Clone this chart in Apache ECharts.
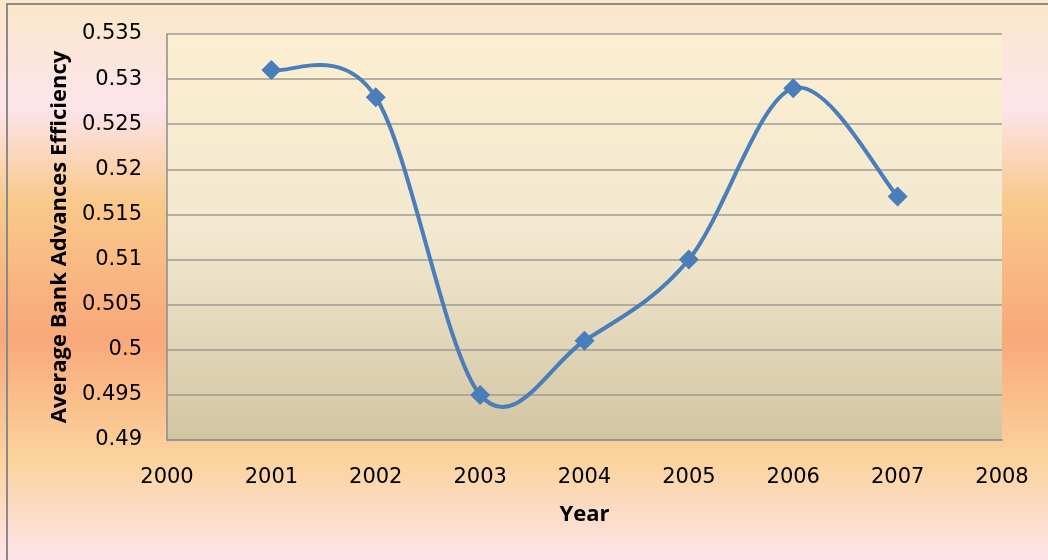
<!DOCTYPE html>
<html>
<head>
<meta charset="utf-8">
<script src="https://cdn.jsdelivr.net/npm/echarts@6/dist/echarts.min.js"></script>
<style>
  html, body { margin: 0; padding: 0; background: #ffffff; }
  #chart { width: 1048px; height: 560px; }
</style>
</head>
<body>
<div id="chart"></div>
<script>
// Average bank advances efficiency by year
const years = [2001, 2002, 2003, 2004, 2005, 2006, 2007];
const efficiency = [0.531, 0.528, 0.495, 0.501, 0.510, 0.529, 0.517];

// Axis ranges
const xRange = [2000, 2008];
const yRange = [0.49, 0.535];
const yStep = 0.005;

const tickFont = '"DejaVu Sans", "Liberation Sans", sans-serif';
const titleFont = '"Open Sans", "Liberation Sans", sans-serif';
const lineColor = '#4a7ebb';

const points = years.map((y, i) => [y, efficiency[i]]);

// Smoothed curve: one cubic Bezier per segment, Catmull-Rom style tangents
// computed in pixel space from the neighbouring points.
function renderSegment(params, api) {
  const i = params.dataIndex;
  const n = points.length;
  if (i >= n - 1) return null;
  const px = points.map(p => api.coord(p));
  const p0 = px[Math.max(i - 1, 0)];
  const p1 = px[i];
  const p2 = px[i + 1];
  const p3 = px[Math.min(i + 2, n - 1)];
  return {
    type: 'bezierCurve',
    shape: {
      x1: p1[0], y1: p1[1],
      x2: p2[0], y2: p2[1],
      cpx1: p1[0] + (p2[0] - p0[0]) / 6, cpy1: p1[1] + (p2[1] - p0[1]) / 6,
      cpx2: p2[0] - (p3[0] - p1[0]) / 6, cpy2: p2[1] - (p3[1] - p1[1]) / 6
    },
    style: { stroke: lineColor, lineWidth: 4, fill: null, lineCap: 'round' },
    silent: true
  };
}

const chart = echarts.init(document.getElementById('chart'), null, { renderer: 'canvas' });

chart.setOption({
  animation: false,
  backgroundColor: {
    type: 'linear', x: 0, y: 0, x2: 0, y2: 1,
    colorStops: [
      { offset: 0.00, color: '#fbe7c9' },
      { offset: 0.19, color: '#fce4ec' },
      { offset: 0.36, color: '#f9c98b' },
      { offset: 0.60, color: '#f9a87a' },
      { offset: 0.82, color: '#fbd39d' },
      { offset: 1.00, color: '#fde4ea' }
    ]
  },
  graphic: [
    { type: 'line', shape: { x1: 6, y1: 4, x2: 1048, y2: 4 }, style: { stroke: '#8a8a8a', lineWidth: 2 } },
    { type: 'line', shape: { x1: 7, y1: 4, x2: 7, y2: 560 }, style: { stroke: '#8a8a8a', lineWidth: 2 } }
  ],
  grid: {
    left: 167, right: 46, top: 34, bottom: 120,
    show: true,
    borderWidth: 0,
    backgroundColor: {
      type: 'linear', x: 0, y: 0, x2: 0, y2: 1,
      colorStops: [
        { offset: 0, color: '#fdefd1' },
        { offset: 0.5, color: '#f1e8cf' },
        { offset: 1, color: '#d2c5a2' }
      ]
    }
  },
  xAxis: {
    type: 'value',
    min: xRange[0], max: xRange[1], interval: 1,
    name: 'Year',
    nameLocation: 'middle',
    nameGap: 64,
    nameTextStyle: { fontFamily: titleFont, fontSize: 22, fontWeight: 'bold', color: '#000' },
    axisLine: { show: true, lineStyle: { color: '#8d8d8d', width: 1.5 } },
    axisTick: { show: false },
    splitLine: { show: false },
    axisLabel: { fontFamily: tickFont, fontSize: 21, color: '#000', margin: 27,
      formatter: v => String(v) }
  },
  yAxis: {
    type: 'value',
    min: yRange[0], max: yRange[1], interval: yStep,
    name: 'Average Bank Advances Efficiency',
    nameLocation: 'middle',
    nameGap: 96,
    nameTextStyle: { fontFamily: titleFont, fontSize: 22, fontWeight: 'bold', color: '#000' },
    axisLine: { show: true, lineStyle: { color: '#8d8d8d', width: 1.5 } },
    axisTick: { show: false },
    splitLine: { show: true, lineStyle: { color: '#9f9b93', width: 1.5 } },
    axisLabel: { fontFamily: tickFont, fontSize: 21, color: '#000', margin: 25,
      formatter: v => String(parseFloat(v.toFixed(3))) }
  },
  series: [
    {
      type: 'custom',
      renderItem: renderSegment,
      data: points,
      z: 2
    },
    {
      type: 'scatter',
      data: points,
      symbol: 'diamond',
      symbolSize: 20,
      itemStyle: { color: lineColor, opacity: 1 },
      z: 3
    }
  ]
});
</script>
</body>
</html>
